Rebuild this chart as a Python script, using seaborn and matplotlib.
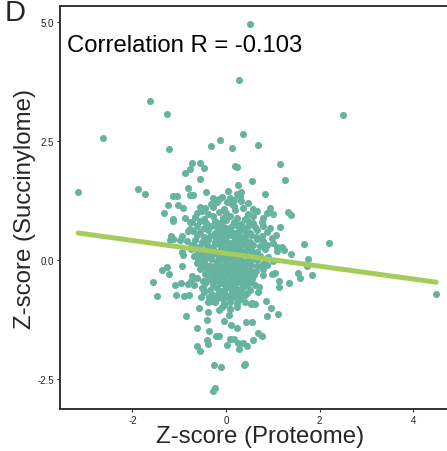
import numpy as np
import pandas as pd
import matplotlib
matplotlib.use("Agg")
import matplotlib.pyplot as plt
import seaborn as sns

# ---- data: z-scores ----
# scattered points outside the dense core
outer_x = [0.51, 0.28, -1.62, -1.26, 2.50, -2.63, 0.37, -0.13, -0.33, 0.12, 0.68, -1.21,
           -3.16, 4.49, 2.21, 1.66, -0.73, -0.55, -0.46, -0.76, -0.88, -0.56, 0.19, 0.24,
           1.15, 1.25, 0.55, 0.25, -1.87, -1.74, -0.81, -0.77, -0.70, -0.42, 0.05, 0.33,
           0.84, 0.24, -1.13, -1.04, -1.25, -1.03, -0.91, -1.32, -1.14, -1.13, -0.87, -0.78,
           -0.76, -0.81, -0.95, -1.14, -1.19, -0.98, 1.33, 1.38, 1.15, 1.06, 1.19, 1.38,
           1.75, 1.72, 1.53, 1.58, 1.84, 1.35, 1.14, 1.14, 1.12, 0.88, 0.85, 0.69,
           0.71, 0.78, 0.87, 0.98, 1.05, 0.97, 0.68, 0.77, 0.58, 0.41, 0.38, 0.44,
           0.37, 0.28, 0.26, 0.16, 0.09, 0.02, 0.43, 0.55, 0.23, 0.11, -0.05, -0.26,
           -0.11, -0.24, -0.27, -0.55, -0.63, -0.38, -0.41, -0.61, -0.37, -0.21, -0.16, -0.86,
           -0.57, -0.39, -0.40, -0.14, -0.04, 0.09, 0.06, -1.47, -1.57, -1.36, -1.26, -1.21,
           -1.09, -0.96, -0.94, -1.07, -0.90, -0.79, -0.82, -0.75, -0.73, -0.61, -0.68, -0.49,
           -0.50, -0.48, -0.53, -0.36, -0.27, -0.29, -0.38, 0.53, 0.61, 0.56, 0.41, 0.48,
           0.53, 0.62, 0.33, 0.21, 0.16, -0.13, -0.09, 0.04, -0.95, -0.92, -0.75, -0.63,
           -0.68, -0.53, -0.63, -0.51, -0.38, -0.41, -0.27, -0.20, -0.30, -1.18, -1.13]
outer_y = [4.95, 3.77, 3.33, 3.06, 3.05, 2.56, 2.65, 2.51, 2.38, 2.35, 2.41, 2.33,
           1.43, -0.71, 0.35, 0.33, 2.03, 2.03, 1.93, 1.91, 1.82, 1.70, 1.98, 1.95,
           2.01, 1.67, 1.66, 1.57, 1.48, 1.38, 1.50, 1.36, 1.36, 1.43, 1.45, 1.43,
           1.39, 1.38, 1.34, 1.35, 1.15, 1.16, 1.08, 0.98, 0.85, 0.82, 0.89, 0.79,
           0.65, 0.61, 0.51, 0.44, 0.41, 0.41, 1.00, 0.95, 0.70, 0.53, 0.28, 0.13,
           0.03, -0.12, -0.27, -0.38, -0.31, -0.48, -0.43, -0.56, -1.13, -1.18, -0.87, -0.68,
           -0.56, -0.31, -0.10, -0.29, -0.28, -1.01, -1.54, -1.59, -1.68, -2.18, -2.20, -1.80,
           -1.73, -1.87, -1.73, -1.66, -1.66, -1.78, -1.31, -1.29, -1.43, -1.36, -1.28, -2.20,
           -2.24, -2.69, -2.74, -1.91, -1.80, -1.77, -1.67, -1.43, -1.48, -1.59, -1.59, -1.18,
           -1.00, -1.08, -1.26, -1.04, -0.94, -1.03, -1.15, -0.75, -0.47, -0.22, -0.14, -0.29,
           -0.53, -0.49, -0.13, -0.74, -0.75, -0.73, -0.50, -0.45, -0.33, -0.38, -0.53, -0.43,
           -0.59, -0.68, -0.77, -0.78, -0.73, -0.85, -0.89, -0.92, -0.92, -0.91, -0.73, -0.50,
           -0.47, -0.52, -0.68, -0.66, -0.57, -0.64, -0.71, -0.77, 0.17, 0.10, 0.24, 0.27,
           0.09, 0.08, -0.06, -0.12, -0.12, -0.22, -0.26, -0.36, -0.47, 0.50, 0.45]

# dense core, upper part
upper_x = [-0.27, -0.16, -0.09, 0.09, 0.16, 0.30,
           -0.33, -0.20, 0.03, 0.12, 0.31, 0.48,
           -0.56, -0.45, -0.27, -0.04, 0.16, 0.37, 0.58, 0.94,
           -0.63, -0.52, -0.38, -0.16, 0.01, 0.19, 0.46, 0.66, 0.87, 1.01,
           -0.66, -0.47, -0.27, -0.07, 0.09, 0.24, 0.41, 0.58, 0.80,
           -0.73, -0.56, -0.43, -0.24, -0.13, 0.01, 0.16, 0.31, 0.46, 0.58, 0.76,
           -0.63, -0.47, -0.33, -0.20, -0.09, 0.01, 0.12, 0.24, 0.36, 0.48, 0.62, 0.80, 0.94,
           -0.70, -0.56, -0.38, -0.24, -0.13, -0.02, 0.09, 0.19, 0.28, 0.41, 0.51, 0.66, 0.87,
           -0.63, -0.48, -0.34, -0.21, -0.11, 0.00, 0.10, 0.20, 0.30, 0.41, 0.53, 0.64, 0.76, 0.98]
upper_y = [1.31, 1.27, 1.33, 1.29, 1.26, 1.32,
           1.18, 1.22, 1.21, 1.17, 1.23, 1.19,
           1.12, 1.08, 1.11, 1.07, 1.13, 1.09, 1.06, 1.10,
           0.98, 1.03, 0.97, 1.01, 0.99, 1.04, 0.96, 1.02, 0.99, 0.97,
           0.91, 0.87, 0.92, 0.88, 0.93, 0.89, 0.86, 0.92, 0.88,
           0.79, 0.82, 0.77, 0.81, 0.78, 0.83, 0.79, 0.76, 0.82, 0.78, 0.80,
           0.71, 0.68, 0.72, 0.69, 0.73, 0.67, 0.71, 0.74, 0.68, 0.72, 0.69, 0.71, 0.67,
           0.61, 0.58, 0.62, 0.57, 0.63, 0.59, 0.61, 0.56, 0.62, 0.60, 0.57, 0.63, 0.59,
           0.52, 0.48, 0.51, 0.47, 0.53, 0.49, 0.52, 0.46, 0.51, 0.48, 0.53, 0.49, 0.51, 0.47]

# dense core, middle part
mid_x = [-0.84, -0.66, -0.52, -0.38, -0.24, -0.13, -0.02, 0.09, 0.19, 0.30, 0.41, 0.51, 0.66, 0.80, 1.01,
         -0.73, -0.56, -0.41, -0.27, -0.16, -0.06, 0.05, 0.16, 0.26, 0.37, 0.48, 0.58, 0.73, 0.87, 1.08,
         -0.63, -0.48, -0.34, -0.21, -0.11, 0.00, 0.10, 0.20, 0.30, 0.41, 0.53, 0.66, 0.83, 1.08, 1.23,
         -0.56, -0.41, -0.27, -0.16, -0.06, 0.05, 0.16, 0.26, 0.37, 0.48, 0.60, 0.73, 0.90,
         -0.59, -0.47, -0.33, -0.20, -0.09, 0.01, 0.12, 0.23, 0.33, 0.44, 0.55, 0.67, 0.83, 1.01,
         -0.48, -0.34, -0.21, -0.11, 0.00, 0.10, 0.20, 0.30, 0.41, 0.53, 0.66, 0.80,
         -0.56, -0.38, -0.24, -0.13, -0.02, 0.09, 0.19, 0.30, 0.41, 0.51, 0.64, 0.80,
         -0.45, -0.31, -0.16, -0.07, 0.03, 0.14, 0.24, 0.36, 0.48, 0.60,
         -0.38, -0.24, -0.11, 0.00, 0.10, 0.21, 0.31, 0.43, 0.55]
mid_y = [0.39, 0.42, 0.37, 0.41, 0.38, 0.43, 0.39, 0.36, 0.42, 0.38, 0.41, 0.37, 0.43, 0.39, 0.36,
         0.31, 0.27, 0.32, 0.28, 0.33, 0.29, 0.26, 0.31, 0.28, 0.33, 0.27, 0.31, 0.29, 0.32, 0.28,
         0.21, 0.18, 0.22, 0.17, 0.23, 0.19, 0.21, 0.16, 0.22, 0.18, 0.21, 0.17, 0.23, 0.19, 0.21,
         0.11, 0.08, 0.12, 0.07, 0.13, 0.09, 0.11, 0.06, 0.12, 0.08, 0.11, 0.09, 0.07,
         0.01, -0.03, 0.02, -0.02, 0.03, -0.01, 0.02, -0.04, 0.01, -0.02, 0.03, -0.01, 0.02, -0.03,
         -0.09, -0.12, -0.08, -0.13, -0.09, -0.11, -0.07, -0.12, -0.08, -0.11, -0.13, -0.09,
         -0.19, -0.22, -0.18, -0.23, -0.19, -0.21, -0.17, -0.22, -0.18, -0.21, -0.23, -0.19,
         -0.29, -0.32, -0.28, -0.33, -0.29, -0.31, -0.27, -0.32, -0.29, -0.31,
         -0.39, -0.42, -0.38, -0.43, -0.39, -0.41, -0.37, -0.42, -0.39]

# dense core, lower part
lower_x = [-0.45, -0.27, -0.13, -0.02, 0.09, 0.19, 0.30, 0.43,
           -0.52, -0.34, -0.20, -0.04, 0.09, 0.24, 0.37, 0.51,
           -0.16, -0.02, 0.12, 0.24, 0.44,
           -0.20, -0.07, 0.16, 0.30,
           -0.24, -0.04, 0.09, 0.24, 0.41,
           -0.09, 0.09, 0.23]
lower_y = [-0.49, -0.52, -0.48, -0.53, -0.49, -0.51, -0.47, -0.52,
           -0.59, -0.62, -0.58, -0.63, -0.59, -0.61, -0.57, -0.62,
           -0.69, -0.72, -0.68, -0.71, -0.69,
           -0.79, -0.82, -0.78, -0.81,
           -0.89, -0.92, -0.88, -0.91, -0.89,
           -0.99, -1.02, -0.98]

corr_label = "Correlation R = -0.103"
x_ticks = [-2, 0, 2, 4]
y_ticks = [-2.5, 0.0, 2.5, 5.0]

df = pd.DataFrame({
    "proteome": outer_x + upper_x + mid_x + lower_x,
    "succinylome": outer_y + upper_y + mid_y + lower_y,
})

sns.set_style("white")
plt.rcParams["font.family"] = ["Liberation Sans", "DejaVu Sans"]

fig = plt.figure(figsize=(4.47, 4.52), dpi=100)
ax = fig.add_axes([0.1342, 0.0929, 0.895, 0.8916])

sns.regplot(data=df, x="proteome", y="succinylome", ax=ax, ci=None,
            scatter_kws={"s": 26, "color": "#66b3a0", "linewidths": 0, "alpha": 1},
            line_kws={"color": "#a4cc5c", "linewidth": 3.6})

ax.set_xlim(-3.547, 5.0)
ax.set_ylim(-3.124, 5.325)
ax.set_xticks(x_ticks)
ax.set_xticklabels([str(t) for t in x_ticks])
ax.set_yticks(y_ticks)
ax.set_yticklabels([f"{t:.1f}" for t in y_ticks])
ax.tick_params(axis="both", labelsize=7, colors="#333333", length=2.5, width=0.8,
               direction="out", left=True, bottom=True, pad=2)
ax.tick_params(labelcolor="#222222")

for side in ["left", "bottom", "top"]:
    ax.spines[side].set_color("#333333")
    ax.spines[side].set_linewidth(1.4)
ax.spines["right"].set_visible(False)

ax.set_xlabel("Z-score (Proteome)", fontsize=17.3, labelpad=0)
ax.set_ylabel("Z-score (Succinylome)", fontsize=17.3, labelpad=1)

ax.text(0.018, 0.903, corr_label, transform=ax.transAxes, fontsize=17.2,
        ha="left", va="center", color="black")
fig.text(0.01, 0.953, "D", fontsize=21, ha="left", va="baseline")

fig.savefig("out.png", dpi=100)
